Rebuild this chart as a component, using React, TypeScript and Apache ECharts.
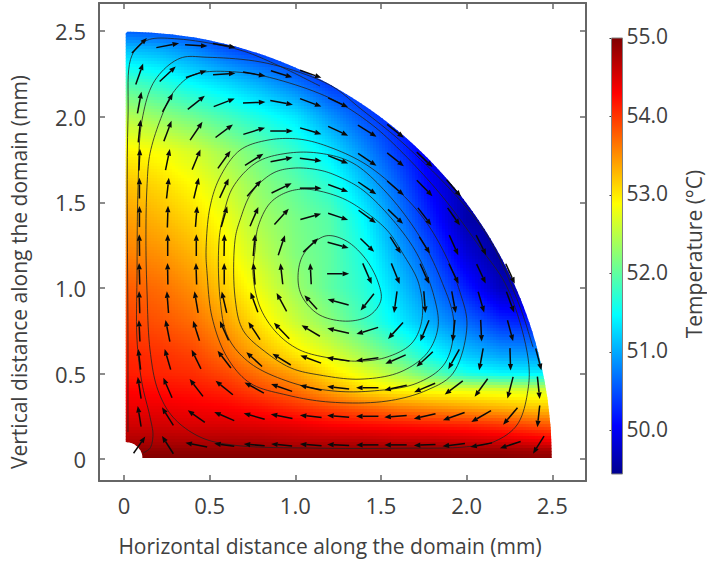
import React, { useEffect, useRef } from "react";
import * as echarts from "echarts";

// ---------- temperature field (deg C) ----------
const fieldX = [0, 0.2, 0.4, 0.6, 0.8, 1, 1.2, 1.4, 1.6, 1.8, 2, 2.2, 2.4, 2.5];
const fieldY = [0, 0.05, 0.1, 0.2, 0.3, 0.4, 0.5, 0.6, 0.8, 1, 1.2, 1.4, 1.6, 1.8, 2, 2.2, 2.4, 2.5];
const fieldT = [
  [55, 55, 55, 55, 55, 55, 55, 55, 55, 55, 55, 55, 54.95, 54.95],
  [54.9, 54.9, 54.9, 54.9, 54.9, 54.9, 54.9, 54.9, 54.9, 54.9, 54.85, 54.85, 54.8, 54.8],
  [54.75, 54.75, 54.75, 54.75, 54.75, 54.7, 54.7, 54.7, 54.65, 54.65, 54.6, 54.55, 54.45, 54.4],
  [54.55, 54.55, 54.5, 54.5, 54.45, 54.4, 54.3, 54.25, 54.2, 54.15, 54.1, 54, 53.85, 53.8],
  [54.4, 54.4, 54.35, 54.3, 54.2, 54.05, 53.9, 53.75, 53.6, 53.5, 53.4, 53.3, 53.2, 53.2],
  [54.3, 54.25, 54.2, 54.1, 53.9, 53.7, 53.4, 53.1, 52.95, 52.85, 52.8, 52.75, 52.7, 52.7],
  [54.15, 54.1, 54.05, 53.9, 53.65, 53.4, 53.05, 52.75, 52.4, 52, 51.6, 51.45, 51.4, 51.4],
  [54.1, 54.05, 53.95, 53.7, 53.35, 53.05, 52.75, 52.4, 52, 51.55, 51.2, 51, 50.95, 50.95],
  [53.95, 53.85, 53.7, 53.4, 53, 52.6, 52.25, 51.85, 51.4, 51, 50.65, 50.3, 50.2, 50.2],
  [53.8, 53.7, 53.5, 53.15, 52.75, 52.35, 52, 51.7, 51.2, 50.7, 50.2, 49.7, 49.6, 49.6],
  [53.6, 53.5, 53.3, 52.95, 52.55, 52.2, 52, 51.6, 51, 50.45, 49.85, 49.5, 49.5, 49.5],
  [53.45, 53.3, 53.1, 52.8, 52.4, 52.15, 51.95, 51.45, 50.8, 50.2, 49.6, 49.5, 49.5, 49.5],
  [53.25, 53.1, 52.9, 52.6, 52.25, 52, 51.7, 51.15, 50.6, 50, 49.6, 49.5, 49.5, 49.5],
  [52.95, 52.85, 52.65, 52.35, 52.05, 51.75, 51.35, 50.85, 50.35, 49.9, 49.7, 49.6, 49.6, 49.6],
  [52.5, 52.3, 52.1, 51.85, 51.6, 51.35, 50.9, 50.5, 50.2, 50, 50, 50, 50, 50],
  [51.9, 51.7, 51.45, 51.25, 51, 50.7, 50.35, 50.2, 50.1, 50.1, 50.1, 50.1, 50.1, 50.1],
  [51.1, 51, 50.8, 50.5, 50.3, 50.2, 50.2, 50.2, 50.2, 50.2, 50.2, 50.2, 50.2, 50.2],
  [50.6, 50.5, 50.4, 50.3, 50.2, 50.2, 50.2, 50.2, 50.2, 50.2, 50.2, 50.2, 50.2, 50.2],
];

// ---------- velocity arrows on their regular grid ----------
const arrowX = [0.09, 0.255, 0.422, 0.585, 0.76, 0.92, 1.09, 1.25, 1.42, 1.585, 1.755, 1.925, 2.085, 2.255, 2.42];
const arrowY = [0.083, 0.25, 0.417, 0.583, 0.75, 0.917, 1.083, 1.25, 1.417, 1.583, 1.75, 1.917, 2.083, 2.25, 2.417];
const arrowU = [
  [35, -34, -65, -60, -63, -63, -65, -66, -67, -67, -65, -67, -65, -62, -33],
  [-10, -34, -51, -60, -63, -65, -65, -66, -67, -67, -65, -65, -59, -43, -7],
  [-10, -26, -40, -52, -58, -63, -65, -66, -67, -67, -63, -54, -39, -17, 7],
  [-7, -18, -28, -40, -47, -55, -62, -68, -67, -61, -49, -33, -12, 2, 17],
  [-3, -13, -19, -26, -35, -46, -55, -65, -65, -45, -26, -7, 3, 17],
  [-2, -5, -11, -15, -22, -30, -38, -63, -40, -9, 5, 12, 18, 23],
  [-2, -1, -2, 0, -5, -7, -3, 66, 27, 25, 27, 29, 27, 27],
  [-1, 0, 0, 1, 6, 20, 45, 63, 41, 32, 32, 27, 30],
  [0, 2, 5, 18, 25, 43, 62, 60, 52, 45, 40, 37],
  [0, 7, 15, 27, 42, 60, 65, 60, 54, 50, 47, 43],
  [3, 13, 25, 38, 55, 66, 65, 60, 55, 50, 47],
  [7, 23, 37, 52, 65, 68, 64, 60, 56, 50],
  [12, 31, 51, 63, 67, 68, 64, 60],
  [22, 48, 62, 67, 67, 64, 64],
  [45, 68, 67, 68],
];
const arrowV = [
  [50, 53, 13, 8, 5, 6, 5, 3, 0, 0, -3, -8, -12, -20, -53],
  [62, 54, 36, 26, 18, 13, 7, 5, 0, -5, -15, -23, -34, -51, -65],
  [65, 60, 52, 42, 32, 22, 15, 7, 0, -15, -27, -41, -54, -65, -67],
  [62, 62, 57, 52, 43, 34, 23, 10, -9, -27, -45, -59, -65, -67, -65],
  [65, 65, 60, 58, 53, 48, 33, 15, -20, -49, -63, -65, -65, -63],
  [67, 65, 65, 64, 60, 55, 42, 17, -50, -65, -65, -65, -62, -62],
  [65, 65, 65, 65, 65, 63, 63, 0, -62, -62, -60, -60, -58, -60],
  [65, 65, 65, 65, 65, 60, 42, -17, -40, -50, -50, -60, -60],
  [63, 65, 62, 62, 58, 47, 17, -20, -38, -43, -52, -52],
  [62, 62, 62, 58, 48, 29, 0, -22, -37, -43, -48, -50],
  [65, 63, 60, 53, 35, 13, -8, -24, -37, -40, -45],
  [68, 61, 55, 39, 20, 0, -19, -28, -35, -40],
  [65, 55, 41, 24, 3, -13, -24, -28],
  [63, 45, 21, 5, -12, -20, -23],
  [45, 13, -4, -12],
];

// ---------- streamlines ----------
const loopA = [[1.173, 1.303], [1.29, 1.279], [1.407, 1.174], [1.483, 1.034], [1.5, 0.929], [1.436, 0.841], [1.308, 0.806], [1.144, 0.841], [1.045, 0.94], [1.016, 1.046], [1.045, 1.192], [1.173, 1.303]];
const loopB = [[0.753, 1.086], [0.765, 1.221], [0.782, 1.355], [0.852, 1.495], [0.952, 1.56], [1.068, 1.577], [1.261, 1.53], [1.395, 1.454], [1.535, 1.338], [1.628, 1.2], [1.72, 1.028], [1.74, 0.82], [1.681, 0.678], [1.535, 0.596], [1.36, 0.572], [1.203, 0.59], [1.027, 0.637], [0.893, 0.736], [0.794, 0.888], [0.753, 1.086]];
const loopC = [[0.648, 0.946], [0.648, 1.279], [0.677, 1.396], [0.747, 1.56], [0.87, 1.671], [0.987, 1.7], [1.144, 1.688], [1.261, 1.647], [1.395, 1.571], [1.57, 1.396], [1.71, 1.2], [1.81, 0.95], [1.833, 0.771], [1.769, 0.619], [1.611, 0.508], [1.378, 0.467], [1.144, 0.491], [0.98, 0.53], [0.835, 0.619], [0.695, 0.753], [0.648, 0.946]];
const loopD = [[0.56, 0.946], [0.555, 1.279], [0.578, 1.414], [0.636, 1.589], [0.776, 1.735], [0.952, 1.787], [1.144, 1.787], [1.337, 1.729], [1.535, 1.554], [1.728, 1.297], [1.85, 1.05], [1.925, 0.8], [1.874, 0.561], [1.711, 0.444], [1.436, 0.397], [1.203, 0.4], [0.969, 0.45], [0.736, 0.561], [0.607, 0.713], [0.56, 0.946]];
const loopE = [[0.485, 1.086], [0.479, 1.221], [0.502, 1.472], [0.56, 1.647], [0.677, 1.805], [0.835, 1.863], [1.02, 1.87], [1.203, 1.822], [1.436, 1.706], [1.711, 1.454], [1.862, 1.221], [1.96, 0.98], [2.002, 0.78], [1.921, 0.502], [1.769, 0.403], [1.535, 0.339], [1.203, 0.333], [0.952, 0.374], [0.736, 0.444], [0.601, 0.596], [0.514, 0.829], [0.485, 1.086]];
const loopF = [[0.134, 0.987], [0.128, 1.279], [0.134, 1.589], [0.152, 1.787], [0.222, 2.009], [0.28, 2.132], [0.368, 2.225], [0.461, 2.26], [0.677, 2.26], [0.87, 2.225], [1.203, 2.109], [1.436, 1.963], [1.629, 1.787], [1.862, 1.53], [2.078, 1.238], [2.236, 1.005], [2.358, 0.596], [2.358, 0.403], [2.294, 0.199], [2.154, 0.099], [1.979, 0.07], [1.629, 0.064], [1.144, 0.064], [0.636, 0.082], [0.444, 0.129], [0.286, 0.245], [0.198, 0.403], [0.152, 0.637], [0.134, 0.987]];
const lineG = [[0.111, 0.035], [0.152, 0.064], [0.169, 0.14], [0.152, 0.245], [0.105, 0.444], [0.076, 0.695], [0.076, 1.086], [0.082, 1.589], [0.105, 1.98], [0.181, 2.214], [0.327, 2.342], [0.485, 2.348], [0.835, 2.313], [1.203, 2.185], [1.378, 2.05], [1.629, 1.846], [1.962, 1.513], [2.137, 1.279], [2.312, 0.888], [2.388, 0.654]];
const lineH = [[0.023, 0.158], [0.023, 0.695], [0.023, 1.98], [0.047, 2.36], [0.134, 2.447], [0.315, 2.455], [0.677, 2.39], [0.9, 2.3], [1.144, 2.18]];
const streamlines = [loopA, loopB, loopC, loopD, loopE, loopF, lineG, lineH];

// ---------- axes ----------
const tickValues = [0, 0.5, 1, 1.5, 2, 2.5];
const colorTicks = [50, 51, 52, 53, 54, 55];
const T_MIN = 49.446;
const T_MAX = 55;
const jetStops: [number, number, number, number][] = [
  [0, 0, 0, 143],
  [0.111, 0, 0, 255],
  [0.365, 0, 255, 255],
  [0.62, 255, 255, 0],
  [0.873, 255, 0, 0],
  [1, 128, 0, 0],
];

const FONT = "'Open Sans'";
const TEXT = "#404040";
const AXIS = "#666666";

function jet(t: number) {
  const v = Math.max(0, Math.min(1, t));
  for (let i = 1; i < jetStops.length; i++) {
    const a = jetStops[i - 1];
    const b = jetStops[i];
    if (v <= b[0]) {
      const f = (v - a[0]) / (b[0] - a[0]);
      return `rgb(${Math.round(a[1] + (b[1] - a[1]) * f)},${Math.round(a[2] + (b[2] - a[2]) * f)},${Math.round(a[3] + (b[3] - a[3]) * f)})`;
    }
  }
  return "rgb(128,0,0)";
}

function locate(axis: number[], v: number) {
  let i = 0;
  while (i < axis.length - 2 && v > axis[i + 1]) i++;
  return [i, Math.max(0, Math.min(1, (v - axis[i]) / (axis[i + 1] - axis[i])))];
}

function shade(x: number, y: number) {
  const [i, fx] = locate(fieldX, x);
  const [j, fy] = locate(fieldY, y);
  const a = fieldT[j][i] * (1 - fx) + fieldT[j][i + 1] * fx;
  const b = fieldT[j + 1][i] * (1 - fx) + fieldT[j + 1][i + 1] * fx;
  return a * (1 - fy) + b * fy;
}

const R = 2.497;
const TILE = 3;

function renderField(_p: any, api: any) {
  const o = api.coord([0, 0]);
  const e = api.coord([2.5, 2.5]);
  const sx = (e[0] - o[0]) / 2.5;
  const sy = (o[1] - e[1]) / 2.5;
  const children: any[] = [];
  for (let py = Math.floor(e[1]) - TILE; py < o[1] + TILE; py += TILE) {
    for (let px = Math.floor(o[0]); px < e[0] + TILE; px += TILE) {
      const x = (px + TILE / 2 - o[0]) / sx;
      const y = (o[1] - py - TILE / 2) / sy;
      if (Math.hypot(x, y) > R + 0.05 || y < -0.05) continue;
      children.push({
        type: "rect",
        silent: true,
        shape: { x: px, y: py, width: TILE + 0.6, height: TILE + 0.6 },
        style: { fill: jet((shade(Math.max(0, x), Math.max(0, y)) - T_MIN) / (T_MAX - T_MIN)), stroke: null },
      });
    }
  }
  const outline: number[][] = [api.coord([0.01, 0.1]), api.coord([0.01, 2.49])];
  for (let d = 89.5; d >= 0; d -= 1.5) {
    const r = (d * Math.PI) / 180;
    outline.push(api.coord([R * Math.cos(r), R * Math.sin(r)]));
  }
  outline.push(api.coord([R, 0.006]), api.coord([0.109, 0.006]));
  for (let d = 15; d <= 90; d += 15) {
    const r = (d * Math.PI) / 180;
    outline.push(api.coord([0.01 + 0.1 * Math.cos(r), 0.1 * Math.sin(r)]));
  }
  return { type: "group", children, clipPath: { type: "polygon", shape: { points: outline } } };
}

function renderBar(_p: any, api: any) {
  const a = api.coord([0, T_MAX]);
  const b = api.coord([1, T_MIN]);
  const colorStops = Array.from(jetStops, (s) => ({ offset: 1 - s[0], color: `rgb(${s[1]},${s[2]},${s[3]})` })).reverse();
  return {
    type: "rect",
    shape: { x: a[0], y: a[1], width: b[0] - a[0], height: b[1] - a[1] },
    style: { fill: new echarts.graphic.LinearGradient(0, 0, 0, 1, colorStops), stroke: "#808080", lineWidth: 1 },
  };
}

// centripetal Catmull-Rom through the streamline's read points
function makeStreamRenderer(points: number[][]) {
  const n = points.length;
  const closed = points[0][0] === points[n - 1][0] && points[0][1] === points[n - 1][1];
  const at = (i: number) => {
    if (closed) return points[((i % (n - 1)) + (n - 1)) % (n - 1)];
    if (i < 0) return [2 * points[0][0] - points[1][0], 2 * points[0][1] - points[1][1]];
    if (i > n - 1) return [2 * points[n - 1][0] - points[n - 2][0], 2 * points[n - 1][1] - points[n - 2][1]];
    return points[i];
  };
  const knot = (a: number[], b: number[]) => Math.sqrt(Math.hypot(b[0] - a[0], b[1] - a[1])) || 1e-6;
  const mix = (a: number[], b: number[], ta: number, tb: number, t: number) => {
    const f = (t - ta) / (tb - ta);
    return [a[0] + (b[0] - a[0]) * f, a[1] + (b[1] - a[1]) * f];
  };
  return (params: any, api: any) => {
    const i = params.dataIndex;
    if (i >= n - 1) return null;
    const [p0, p1, p2, p3] = [at(i - 1), at(i), at(i + 1), at(i + 2)];
    const t0 = 0;
    const t1 = t0 + knot(p0, p1);
    const t2 = t1 + knot(p1, p2);
    const t3 = t2 + knot(p2, p3);
    const pts: number[][] = [];
    for (let s = 0; s <= 10; s++) {
      const t = t1 + ((t2 - t1) * s) / 10;
      const a1 = mix(p0, p1, t0, t1, t);
      const a2 = mix(p1, p2, t1, t2, t);
      const a3 = mix(p2, p3, t2, t3, t);
      const b1 = mix(a1, a2, t0, t2, t);
      const b2 = mix(a2, a3, t1, t3, t);
      pts.push(api.coord(mix(b1, b2, t1, t2, t)));
    }
    return {
      type: "polyline",
      shape: { points: pts },
      style: { stroke: "#222222", lineWidth: 1, opacity: 0.8, fill: null },
    };
  };
}

function renderArrow(_p: any, api: any) {
  const cx = api.value(0);
  const cy = api.value(1);
  const u = api.value(2) / 513;
  const v = api.value(3) / 513;
  const t = api.coord([cx - u / 2, cy - v / 2]);
  const h = api.coord([cx + u / 2, cy + v / 2]);
  const dx = h[0] - t[0];
  const dy = h[1] - t[1];
  const len = Math.hypot(dx, dy) || 1;
  const ux = dx / len;
  const uy = dy / len;
  const bx = h[0] - ux * 6.5;
  const by = h[1] - uy * 6.5;
  return {
    type: "group",
    children: [
      { type: "line", shape: { x1: t[0], y1: t[1], x2: bx, y2: by }, style: { stroke: "#0a0a0a", lineWidth: 1.5 } },
      {
        type: "polygon",
        shape: { points: [[h[0], h[1]], [bx - uy * 2.6, by + ux * 2.6], [bx + uy * 2.6, by - ux * 2.6]] },
        style: { fill: "#0a0a0a" },
      },
    ],
  };
}

const arrowData: number[][] = [];
arrowU.forEach((row, j) => row.forEach((u, i) => arrowData.push([arrowX[i], arrowY[j], u, arrowV[j][i]])));

const tickLabel = (v: number) => (v === 0 ? "0" : v.toFixed(1));

export default function App() {
  const ref = useRef<HTMLDivElement>(null);
  useEffect(() => {
    const chart = echarts.init(ref.current!, undefined, { renderer: "svg" });
    const mainAxis = (extra: any, min: number, max: number, index: number) => ({
      type: "value",
      min,
      max,
      gridIndex: 0,
      splitLine: { show: false },
      axisLine: { show: true, onZero: false, lineStyle: { color: AXIS, width: 2 } },
      axisTick: { show: true, inside: true, length: 6, customValues: tickValues, lineStyle: { color: AXIS, width: 1.5 } },
      axisLabel: {
        show: index === 0,
        customValues: tickValues,
        formatter: tickLabel,
        fontFamily: FONT,
        fontSize: 22,
        color: TEXT,
        margin: 13,
      },
      ...extra,
    });
    chart.setOption({
      animation: false,
      backgroundColor: "#ffffff",
      grid: [
        { left: 99, top: 3, width: 487, height: 478 },
        { left: 611.5, top: 38, width: 11, height: 436 },
        { left: 611.5, top: 36, width: 11, height: 436 },
      ],
      xAxis: [
        mainAxis({ position: "bottom" }, -0.146, 2.697, 0),
        mainAxis({ position: "top" }, -0.146, 2.697, 1),
        { type: "value", gridIndex: 1, min: 0, max: 1, show: false },
        { type: "value", gridIndex: 2, min: 0, max: 1, show: false },
      ],
      yAxis: [
        mainAxis({ position: "left" }, -0.128, 2.665, 0),
        mainAxis({ position: "right" }, -0.128, 2.665, 1),
        {
          type: "value",
          gridIndex: 1,
          position: "right",
          min: T_MIN,
          max: T_MAX,
          splitLine: { show: false },
          axisLine: { show: false },
          axisTick: { show: true, inside: true, length: 2, customValues: colorTicks, lineStyle: { color: "#333", width: 1 } },
          axisLabel: { show: false },
        },
        {
          type: "value",
          gridIndex: 2,
          position: "right",
          min: T_MIN,
          max: T_MAX,
          splitLine: { show: false },
          axisLine: { show: false },
          axisTick: { show: false },
          axisLabel: {
            customValues: colorTicks,
            formatter: (v: number) => v.toFixed(1),
            fontFamily: FONT,
            fontSize: 21,
            color: TEXT,
            margin: 4,
          },
        },
      ],
      graphic: [
        {
          type: "text",
          x: 330,
          y: 546,
          style: { text: "Horizontal distance along the domain (mm)", fontFamily: FONT, fontSize: 21, fill: TEXT, textAlign: "center", textVerticalAlign: "middle" },
        },
        {
          type: "text",
          x: 19,
          y: 272,
          rotation: Math.PI / 2,
          style: { text: "Vertical distance along the domain (mm)", fontFamily: FONT, fontSize: 21, fill: TEXT, textAlign: "center", textVerticalAlign: "middle" },
        },
        {
          type: "text",
          x: 694,
          y: 254,
          rotation: Math.PI / 2,
          style: { text: "Temperature (°C)", fontFamily: FONT, fontSize: 21, fill: TEXT, textAlign: "center", textVerticalAlign: "middle" },
        },
      ],
      series: [
        { type: "custom", coordinateSystem: "cartesian2d", xAxisIndex: 0, yAxisIndex: 0, z: 1, silent: true, data: [[0, 0]], renderItem: renderField },
        ...streamlines.map((points) => ({
          type: "custom",
          coordinateSystem: "cartesian2d",
          xAxisIndex: 0,
          yAxisIndex: 0,
          z: 2,
          silent: true,
          data: points,
          renderItem: makeStreamRenderer(points),
        })),
        { type: "custom", coordinateSystem: "cartesian2d", xAxisIndex: 0, yAxisIndex: 0, z: 3, silent: true, data: arrowData, renderItem: renderArrow },
        { type: "custom", coordinateSystem: "cartesian2d", xAxisIndex: 2, yAxisIndex: 2, z: 1, silent: true, data: [[0, T_MIN]], renderItem: renderBar },
      ],
    });
    return () => chart.dispose();
  }, []);
  return <div ref={ref} style={{ position: "absolute", left: 0, top: 0, width: 707, height: 564 }} />;
}
